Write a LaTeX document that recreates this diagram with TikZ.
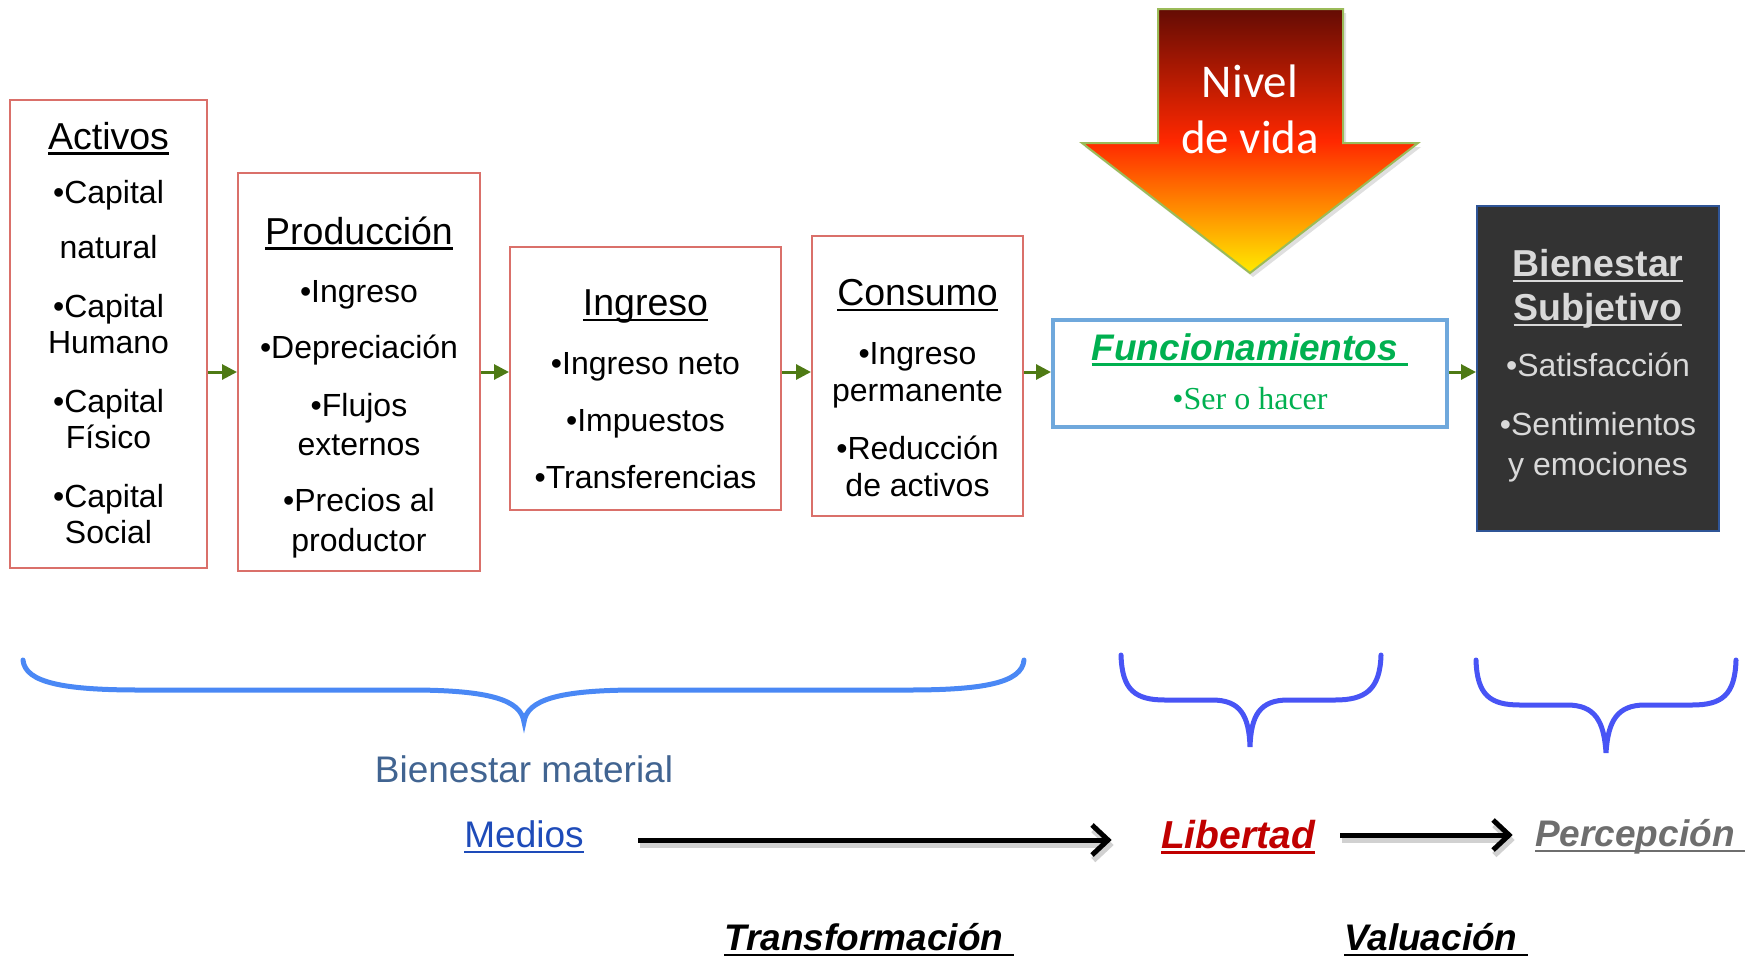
\documentclass[tikz,border=0pt]{standalone}
\usepackage{fontspec}
\setmainfont{Liberation Sans}
\newfontfamily\romana{Liberation Serif}
\newfontfamily\calibri{Carlito}
\usetikzlibrary{arrows.meta,shadows}
% colores
\definecolor{rojocaja}{RGB}{218,112,106}
\definecolor{verdeflecha}{RGB}{78,122,20}
\definecolor{azulfunc}{RGB}{111,168,220}
\definecolor{verdefunc}{RGB}{0,176,80}
\definecolor{grisoscuro}{RGB}{51,51,51}
\definecolor{azulborde}{RGB}{47,85,151}
\definecolor{grisclaro}{RGB}{217,217,217}
\definecolor{azulllave}{RGB}{74,136,245}
\definecolor{indigollave}{RGB}{72,84,245}
\definecolor{azulmaterial}{RGB}{65,100,145}
\definecolor{azulmedios}{RGB}{30,75,185}
\definecolor{rojolibertad}{RGB}{192,0,0}
\definecolor{grispercep}{RGB}{110,110,110}
\definecolor{vinoflecha}{RGB}{100,12,4}
\definecolor{rojoflecha}{RGB}{255,40,0}
\definecolor{amarilloflecha}{RGB}{255,235,0}
\definecolor{verdeborde}{RGB}{155,187,89}
\newsavebox\subcaja
\newcommand{\subr}[1]{\leavevmode\sbox\subcaja{#1}\rlap{\rule[-.15em]{\wd\subcaja}{.07em}}\usebox\subcaja}
\newcommand{\titulo}[1]{{\fontsize{18.75}{22}\selectfont\subr{#1}}}
\newcommand{\titnegra}[1]{{\fontsize{18.75}{22}\selectfont\bfseries\subr{#1}}}
\tikzstyle{caja} = [draw=rojocaja, line width=1pt, rectangle, inner sep=0pt]
\tikzstyle{lista} = [align=center, inner sep=0pt, font=\fontsize{16}{18.25}\selectfont]
\tikzstyle{paso} = [draw=verdeflecha, line width=1.5pt, -{Triangle[length=7.5pt,width=7.5pt]}]
\tikzstyle{llave} = [line width=2.5pt, line cap=round]
\tikzstyle{etiqueta} = [inner sep=0pt, font=\fontsize{18.5}{22}\selectfont]
\tikzstyle{resalte} = [inner sep=0pt, font=\fontsize{18.5}{22}\selectfont\bfseries\itshape]
\tikzstyle{flecha} = [line width=2.5pt, -{Straight Barb[length=8pt,width=15pt]},
  preaction={draw=black!18, line width=3pt, transform canvas={shift={(1pt,-2.5pt)}}}]

\begin{document}
\begin{tikzpicture}[x=0.5pt,y=-0.5pt]
\useasboundingbox (0,0) rectangle (1749,959);

% cadena de cajas
\node[caja, minimum width=98.5pt, minimum height=234pt] (activos) at (108.5,334) {};
\node[lista] (activos-t) at ([yshift=0.5pt]activos.center) {\titulo{Activos}\\[8.75pt]
  •Capital\\[9.5pt]natural\\[11pt]•Capital\\Humano\\[11pt]•Capital\\Físico\\[11pt]•Capital\\Social};

\node[caja, minimum width=121pt, minimum height=199pt] (produccion) at (359,372) {};
\node[lista] (produccion-t) at ([yshift=-7.7pt]produccion.center) {\titulo{Producción}\\[10.75pt]
  •Ingreso\\[10pt]•Depreciación\\[10.75pt]•Flujos\\[1pt]externos\\[10pt]•Precios al\\[1.5pt]productor};

\node[caja, minimum width=135.5pt, minimum height=131.5pt] (ingreso) at (645.5,378.5) {};
\node[lista] (ingreso-t) at ([yshift=-5.25pt]ingreso.center) {\titulo{Ingreso}\\[11.25pt]
  •Ingreso neto\\[10pt]•Impuestos\\[10.25pt]•Transferencias};

\node[caja, minimum width=105.5pt, minimum height=140pt] (consumo) at (917.5,376) {};
\node[lista] (consumo-t) at ([yshift=-6pt]consumo.center) {\titulo{Consumo}\\[11.25pt]
  •Ingreso\\permanente\\[11pt]•Reducción\\de activos};

\node[caja, draw=azulfunc, line width=2pt, minimum width=197pt, minimum height=53.5pt] (func) at (1250,373.5) {};
\node[lista, text=verdefunc] (func-t) at ([yshift=1pt]func.center) {{\fontsize{18.5}{22}\selectfont\bfseries\itshape\subr{Funcionamientos\ }}\\[6.5pt]
  {\romana •Ser o hacer}};

\node[caja, draw=azulborde, fill=grisoscuro, minimum width=121pt, minimum height=162.5pt] (bienestar) at (1598,368.5) {};
\node[lista, text=grisclaro] (bienestar-t) at ([yshift=1.3pt]bienestar.center) {\titnegra{Bienestar}\\[3.75pt]\titnegra{Subjetivo}\\[9.75pt]
  •Satisfacción\\[11.25pt]•Sentimientos\\[1.75pt]y emociones};

\draw[paso] (activos.east |- produccion.west) -- (produccion.west);
\draw[paso] (produccion.east) -- (produccion.east -| ingreso.west);
\draw[paso] (produccion.east -| ingreso.east) -- (produccion.east -| consumo.west);
\draw[paso] (produccion.east -| consumo.east) -- (produccion.east -| func.west);
\draw[paso] (produccion.east -| func.east) -- (produccion.east -| bienestar.west);

% flecha nivel de vida
\shade[top color=vinoflecha, bottom color=amarilloflecha, middle color=rojoflecha, draw=verdeborde, line width=1pt,
  drop shadow={shadow xshift=1.5pt, shadow yshift=-2pt, opacity=.25}]
  (1158,9) -- (1343,9) -- (1343,143) -- (1418,143) -- (1250,273) -- (1082,143) -- (1158,143) -- cycle;
\node[text=white, font=\calibri\fontsize{23.5}{28}\selectfont, align=center, inner sep=0pt] (nivel) at (1250,109) {Nivel\\de vida};

% llaves
\draw[llave, draw=azulllave] (23,660) .. controls (25,683) and (65,690) .. (140,690) -- (410,690)
  .. controls (490,690) and (521,700) .. (524,722) .. controls (527,700) and (558,690) .. (638,690)
  -- (908,690) .. controls (983,690) and (1022,683) .. (1024,660);
\draw[llave, draw=indigollave] (1121,655) .. controls (1122,690) and (1135,700) .. (1165,700) -- (1212,700)
  .. controls (1240,700) and (1249,715) .. (1250,747) .. controls (1251,715) and (1260,700) .. (1288,700)
  -- (1335,700) .. controls (1365,700) and (1380,690) .. (1381,655);
\draw[llave, draw=indigollave] (1476,660) .. controls (1477,695) and (1490,705) .. (1520,705) -- (1567,705)
  .. controls (1595,705) and (1604,721) .. (1606,753) .. controls (1608,721) and (1617,705) .. (1645,705)
  -- (1692,705) .. controls (1722,705) and (1735,695) .. (1736,660);

% etiquetas de abajo
\node[etiqueta, text=azulmaterial] (material) at (524,769) {Bienestar material};
\node[etiqueta, text=azulmedios] (medios) at (524,837) {\subr{Medios}};
\node[resalte, text=rojolibertad, font=\fontsize{19.5}{22}\selectfont\bfseries\itshape] (libertad) at (1238,837) {\subr{Libertad}};
\node[resalte, text=grispercep] (percepcion) at (1640,837) {\subr{Percepción\ }};
\node[resalte] (transf) at (869,940) {\subr{Transformación\ }};
\node[resalte] (valuacion) at (1436,940) {\subr{Valuación\ }};

\draw[flecha, shorten <=27pt, shorten >=24.5pt] ([yshift=-1.5pt]medios.east) -- ([yshift=-1.5pt]libertad.west);
\draw[flecha, shorten <=12.5pt, shorten >=11pt] ([yshift=1pt]libertad.east) -- ([yshift=1pt]percepcion.west);
\end{tikzpicture}
\end{document}
